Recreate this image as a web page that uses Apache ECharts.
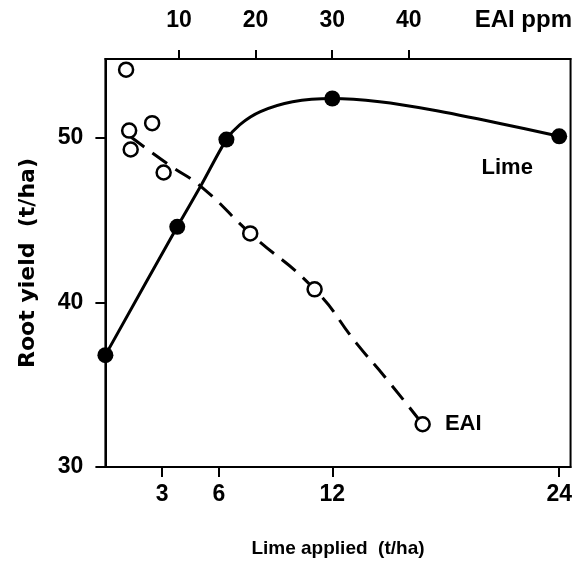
<!DOCTYPE html>
<html>
<head>
<meta charset="utf-8">
<script src="https://cdn.jsdelivr.net/npm/echarts@6/dist/echarts.min.js"></script>
<style>
html,body{margin:0;padding:0;background:#fff;}
#chart{width:575px;height:563px;}
</style>
</head>
<body>
<div id="chart"></div>
<script>
// Lime applied (t/ha) vs root yield (t/ha): observations
const limeX = [0, 3.8, 6.4, 12, 24];
const limeY = [36.8, 44.6, 49.9, 52.4, 50.1];
// Lime fitted (solid) curve
const limeFitX = [0, 3.8, 5.1, 6.4, 7.1, 8.2, 9.9, 12, 14.5, 17.3, 20.8, 24];
const limeFitY = [36.8, 44.6, 47.2, 49.9, 50.8, 51.6, 52.2, 52.4, 52.2, 51.7, 50.9, 50.1];
// EAI (ppm) observations vs root yield
const eaiX = [3.1, 3.5, 3.7, 6.5, 8.0, 19.3, 27.7, 41.8];
const eaiY = [54.15, 50.45, 49.3, 50.9, 47.9, 44.2, 40.8, 32.6];
// EAI fitted (dashed) curve
const eaiFitX = [3.6, 8.6, 13, 19.3, 27.7, 33.2, 37.0, 41.8];
const eaiFitY = [50.1, 48.4, 47.0, 44.2, 40.8, 37.5, 35.4, 32.6];
// tick labels
const limeTicks = [3, 6, 12, 24];
const eaiTicks = [10, 20, 30, 40];
const yTicks = [30, 40, 50];

const zip = (a, b) => a.map((v, i) => [v, b[i]]);

const chart = echarts.init(document.getElementById('chart'), null, {renderer: 'canvas'});
const tickFont = {fontFamily: 'Liberation Sans', fontWeight: 'bold', fontSize: 23, color: '#000'};
const axLine = {show: true, lineStyle: {color: '#000', width: 2}};

const limeData = zip(limeX, limeY).map((p, i) => {
  if (i === limeX.length - 1) {
    return {value: p, label: {show: true, formatter: 'Lime', position: 'bottom', offset: [-52, 8],
      fontFamily: 'Liberation Sans', fontWeight: 'bold', fontSize: 22, color: '#000'}};
  }
  return p;
});
const eaiData = zip(eaiX, eaiY).map((p, i) => {
  if (i === eaiX.length - 1) {
    return {value: p, label: {show: true, formatter: 'EAI', position: 'right', distance: 14,
      fontFamily: 'Liberation Sans', fontWeight: 'bold', fontSize: 22, color: '#000'}};
  }
  return p;
});

chart.setOption({
  animation: false,
  backgroundColor: '#fff',
  grid: {left: 105.4, right: 4, top: 59, bottom: 96, show: true, borderColor: '#000', borderWidth: 2, backgroundColor: 'transparent'},
  xAxis: [
    {
      type: 'value', position: 'bottom', min: 0, max: 24.6,
      name: 'Lime applied  (t/ha)', nameLocation: 'middle', nameGap: 72,
      nameTextStyle: {fontFamily: 'Liberation Sans', fontWeight: 'bold', fontSize: 19, color: '#000'},
      axisLine: axLine,
      axisTick: {show: true, length: 10, lineStyle: {color: '#000', width: 2}, customValues: limeTicks},
      axisLabel: Object.assign({show: true, margin: 16, customValues: limeTicks}, tickFont),
      splitLine: {show: false}
    },
    {
      type: 'value', position: 'top', min: 0.4, max: 61.1,
      axisLine: axLine,
      axisTick: {show: true, length: 9, lineStyle: {color: '#000', width: 2}, customValues: eaiTicks},
      axisLabel: Object.assign({show: true, margin: 27, customValues: eaiTicks}, tickFont),
      splitLine: {show: false}
    }
  ],
  yAxis: [{
    type: 'value', min: 30, max: 54.8,
    name: 'Root yield  (t/ha)', nameLocation: 'middle', nameGap: 66, nameRotate: 90,
    nameTextStyle: {fontFamily: 'DejaVu Sans', fontWeight: 'bold', fontSize: 22, color: '#000'},
    axisLine: axLine,
    axisTick: {show: true, length: 10, lineStyle: {color: '#000', width: 2}, customValues: yTicks},
    axisLabel: Object.assign({show: true, margin: 22, customValues: yTicks}, tickFont),
    splitLine: {show: false}
  }],
  graphic: [{
    type: 'text', right: 3, top: 8,
    style: {text: 'EAI ppm', fontFamily: 'Liberation Sans', fontWeight: 'bold', fontSize: 24, fill: '#000'}
  }],
  series: [
    {
      type: 'line', name: 'EAI fit', xAxisIndex: 1, yAxisIndex: 0,
      data: zip(eaiFitX, eaiFitY), smooth: 0.5, showSymbol: false, symbol: 'none',
      lineStyle: {color: '#000', width: 3, type: [18, 10]}, z: 2
    },
    {
      type: 'scatter', name: 'EAI', xAxisIndex: 1, yAxisIndex: 0,
      data: eaiData, symbol: 'circle', symbolSize: 14,
      itemStyle: {color: '#fff', borderColor: '#000', borderWidth: 2.5, opacity: 1}, z: 4
    },
    {
      type: 'line', name: 'Lime fit', xAxisIndex: 0, yAxisIndex: 0,
      data: zip(limeFitX, limeFitY), smooth: 0.3, showSymbol: false, symbol: 'none',
      lineStyle: {color: '#000', width: 3}, z: 3
    },
    {
      type: 'scatter', name: 'Lime', xAxisIndex: 0, yAxisIndex: 0,
      data: limeData, symbol: 'circle', symbolSize: 16,
      itemStyle: {color: '#000', opacity: 1}, z: 5
    }
  ]
});
</script>
</body>
</html>
